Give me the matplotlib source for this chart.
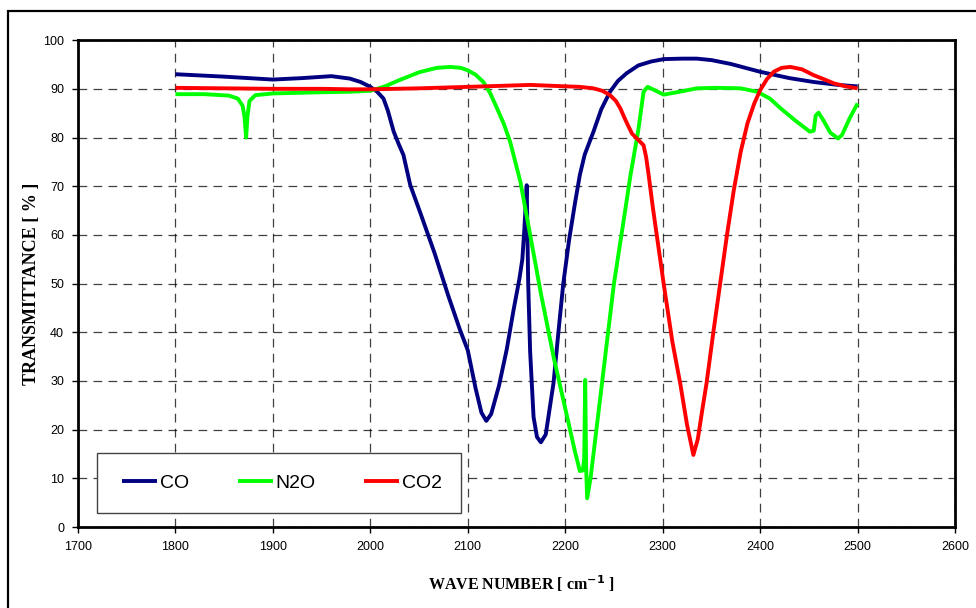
import numpy as np
import matplotlib
matplotlib.use("Agg")
import matplotlib.pyplot as plt
from matplotlib.patches import Rectangle

# Data (wave number cm^-1, transmittance %)
co_x = [1800, 1850, 1900, 1930, 1960, 1979, 1990, 2000, 2007, 2013.5, 2018, 2024, 2029,
        2034, 2041, 2051, 2066, 2080, 2092, 2100, 2108, 2114, 2119, 2124, 2132, 2140,
        2147, 2153, 2156, 2158, 2160.5, 2162, 2164, 2167.5, 2171, 2175, 2180, 2188, 2193,
        2198, 2204, 2210, 2215, 2220, 2229, 2237, 2246, 2254, 2263, 2275, 2288, 2301,
        2320, 2335, 2350, 2370, 2400, 2430, 2455, 2480, 2500]
co_y = [93, 92.5, 91.9, 92.2, 92.6, 92.1, 91.4, 90.4, 89.4, 88.0, 85.5, 81.2, 78.7,
        76.4, 70.2, 64.7, 56.2, 47.5, 40.5, 36.3, 28.5, 23.5, 21.8, 23.2, 29, 36.5, 44.6,
        51, 55, 61, 70.2, 50, 36, 22.6, 18.5, 17.4, 19, 29.6, 40, 50, 59, 66.5, 72.3,
        76.5, 81.2, 85.8, 89.4, 91.6, 93.2, 94.8, 95.6, 96.1, 96.2, 96.2, 95.9, 95.1,
        93.5, 92.2, 91.4, 90.8, 90.5]

n2o_x = [1800, 1830, 1855, 1864, 1869, 1871, 1872.5, 1874, 1876, 1882, 1900, 1950, 1979,
         2000, 2015, 2030, 2050, 2068, 2082, 2093, 2100, 2108, 2116, 2123, 2130, 2137,
         2143.5, 2154, 2164, 2175, 2188, 2202, 2210, 2215, 2218, 2219.5, 2220.5, 2221.5,
         2222.5, 2226, 2235, 2250, 2260, 2267, 2275, 2280.4, 2284.5, 2292, 2301, 2320,
         2335, 2355, 2380, 2397, 2410, 2421, 2436, 2451, 2455, 2457, 2460, 2465, 2472,
         2480, 2484, 2492, 2500]
n2o_y = [88.9, 88.9, 88.6, 88.0, 86.5, 84, 80, 84.5, 87.5, 88.7, 89.05, 89.3, 89.4,
         89.6, 90.5, 91.8, 93.4, 94.3, 94.5, 94.3, 93.8, 92.9, 91.4, 89.1, 86, 82.8,
         79.1, 70.9, 60, 48, 35, 22.6, 15.5, 11.5, 11.6, 14, 30.2, 12, 5.9, 10, 25, 50,
         63, 72.3, 81.5, 89.4, 90.4, 89.7, 88.8, 89.5, 90.1, 90.2, 90.1, 89.4, 88, 86,
         83.5, 81.2, 81.4, 84.5, 85.1, 83.5, 81, 79.8, 80.5, 84, 87]

co2_x = [1800, 1850, 1900, 1950, 1979, 2000, 2050, 2100, 2164, 2195, 2215, 2229, 2238,
         2246, 2252, 2256.5, 2262, 2268.5, 2275, 2280.4, 2283, 2285.6, 2290, 2301, 2310,
         2318, 2325, 2331.5, 2336, 2341, 2345, 2352, 2359, 2366, 2373, 2380, 2387, 2394,
         2400, 2407, 2414, 2422, 2431, 2443, 2455, 2465, 2476, 2488, 2500]
co2_y = [90.2, 90.1, 90.0, 90.0, 89.9, 89.9, 90.1, 90.4, 90.8, 90.55, 90.4, 90.1, 89.6,
         88.7, 87.5, 86, 83.5, 80.8, 79.5, 78.4, 76, 72.3, 65.5, 50, 38, 29.5, 21, 14.8,
         18, 24.5, 29.5, 40, 50, 60, 69.2, 77, 82.9, 87, 89.7, 92, 93.5, 94.3, 94.5, 94,
         92.8, 92, 91.1, 90.5, 90.1]

series = [("CO", co_x, co_y, "#000080"),
          ("N2O", n2o_x, n2o_y, "#00ff00"),
          ("CO2", co2_x, co2_y, "#ff0000")]

x_ticks = np.arange(1700, 2601, 100)
y_ticks = np.arange(0, 101, 10)

fig = plt.figure(figsize=(9.76, 6.08), dpi=100)
ax = fig.add_axes([0.0799, 0.1332, 0.8986, 0.8008])

# outer chart border (left/top visible, right and bottom run off the image)
top = 1 - 11 / 608
fig.patches.append(Rectangle((8 / 976, -0.1), 1.2, top + 0.1,
                             transform=fig.transFigure, fill=False,
                             edgecolor="black", linewidth=1.6))

for name, xs, ys, c in series:
    ax.plot(xs, ys, color=c, linewidth=2.8, label=name,
            solid_joinstyle="round", solid_capstyle="butt")

ax.set_xlim(1700, 2600)
ax.set_ylim(0, 100)
ax.set_xticks(x_ticks)
ax.set_yticks(y_ticks)
ax.tick_params(direction="out", length=4, width=1, labelsize=9, pad=6,
               labelfontfamily="Liberation Sans")

ax.grid(True, color="black", linestyle=(0, (7, 5)), linewidth=0.9, alpha=0.75)
ax.set_axisbelow(True)
for sp in ax.spines.values():
    sp.set_linewidth(2)

ax.set_xlabel("WAVE NUMBER [ cm$^{\\mathbf{-1}}$ ]", fontfamily="Liberation Serif",
              fontweight="bold", fontsize=11.5)
ax.set_ylabel("TRANSMITTANCE [ % ]", fontfamily="Liberation Serif",
              fontweight="bold", fontsize=13)
ax.xaxis.set_label_coords(0.506, -0.0945)
ax.yaxis.set_label_coords(-0.0433, 0.5)

# legend box
ax.add_patch(Rectangle((19 / 877, 14 / 487), 364 / 877, 60 / 487, transform=ax.transAxes,
                       facecolor="white", edgecolor="#444444", linewidth=1, zorder=3))
leg = ax.legend(loc="center left", bbox_to_anchor=(44 / 877, 44 / 487),
                ncol=3, frameon=False, handlelength=1.8, handletextpad=0.15,
                columnspacing=2.5, borderpad=0, borderaxespad=0,
                prop={"family": "Liberation Sans", "size": 14})
leg.set_zorder(5)

fig.savefig("out.png", dpi=100)
